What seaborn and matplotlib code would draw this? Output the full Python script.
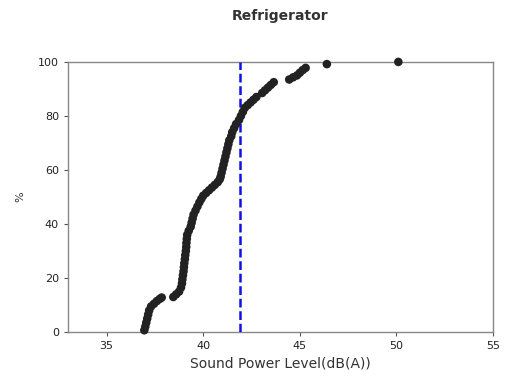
import numpy as np
import pandas as pd
import seaborn as sns
import matplotlib.pyplot as plt

# sound power level of each refrigerator (dB(A)), sorted, and cumulative %
sound_level = [36.95, 37.0, 37.05, 37.1, 37.15, 37.2, 37.3, 37.45, 37.6, 37.75, 37.85,
               38.45, 38.6, 38.75, 38.85, 38.9, 38.92, 38.95, 38.98, 39.0, 39.02,
               39.05, 39.07, 39.1, 39.12, 39.13, 39.15, 39.17, 39.25, 39.35, 39.4,
               39.45, 39.5, 39.6, 39.7, 39.8, 39.9, 40.0, 40.15, 40.3, 40.45,
               40.6, 40.75, 40.85, 40.9, 40.95, 41.0, 41.05, 41.1, 41.15, 41.2,
               41.25, 41.3, 41.35, 41.45, 41.5, 41.6, 41.7, 41.85, 41.95, 42.05,
               42.15, 42.3, 42.45, 42.6, 42.75,
               43.05, 43.2, 43.35, 43.5, 43.65,
               44.45, 44.65, 44.85, 45.0, 45.15, 45.3, 46.4, 50.1]
percent = [0.7, 2, 3.5, 5, 6.5, 8, 9.5, 10.5, 11.5, 12.3, 12.8,
           13, 14, 15, 16.5, 18, 19.5, 21, 22.5, 24, 25.5,
           27, 28.5, 30, 31.5, 33, 34.5, 36, 37.5, 39, 40.5,
           42, 43.5, 45, 46.5, 48, 49.3, 50.5, 51.5, 52.5, 53.5,
           54.5, 55.5, 56.5, 57.5, 59, 60.5, 62, 63.5, 65, 66.5,
           68, 69.5, 71, 72.5, 74, 75.5, 77, 78.5, 80, 81.5,
           83, 84, 85, 86, 87,
           88.5, 89.5, 90.5, 91.5, 92.5,
           93.5, 94.3, 95, 96, 97, 97.8, 99.2, 100]
limit_level = 41.9
x_ticks = [35, 40, 45, 50, 55]
y_ticks = [0, 20, 40, 60, 80, 100]

df = pd.DataFrame({'level': sound_level, 'pct': percent})

sns.set_style('white')
fig = plt.figure(figsize=(5.09, 3.80), dpi=100)
ax = fig.add_axes([0.1336, 0.126, 0.835, 0.711])

ax.axvline(limit_level, ymin=0, ymax=1, color='#1010e0', lw=1.8, ls=(0, (3.5, 1.5)), zorder=3)
sns.scatterplot(data=df, x='level', y='pct', ax=ax, color='#222222', s=38,
                edgecolor='none', clip_on=False, zorder=4)

ax.set_xlim(33, 55)
ax.set_ylim(0, 100)
ax.set_xticks(x_ticks)
ax.set_yticks(y_ticks)
ax.tick_params(axis='both', direction='out', length=3, width=0.8, color='#555555',
               labelsize=8, labelcolor='#222222', bottom=True, left=True)
for sp in ax.spines.values():
    sp.set_color('#888888')
    sp.set_linewidth(1.0)

ax.set_xlabel('Sound Power Level(dB(A))', fontsize=10, color='#333333', labelpad=4)
ax.set_ylabel('%', fontsize=8, color='#333333', labelpad=9)
fig.suptitle('Refrigerator', x=0.55, y=0.977, fontsize=10, fontweight='bold', color='#333333')

fig.savefig('out.png', dpi=100)
